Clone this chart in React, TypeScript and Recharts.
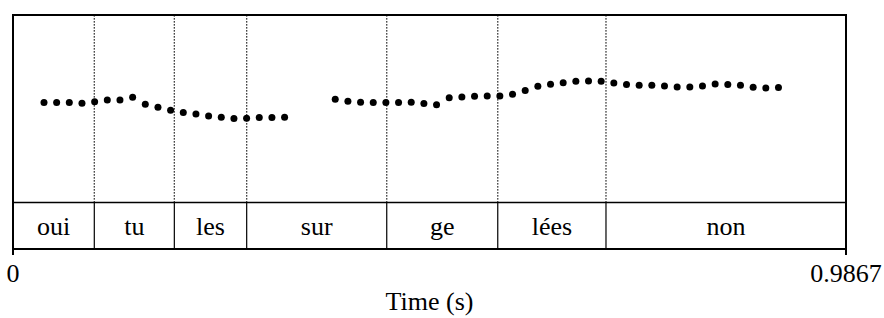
import React from 'react';
import {
  ComposedChart, Scatter, XAxis, YAxis, ReferenceLine, ReferenceArea, Label,
} from 'recharts';

const T_END = 0.9867;
const PITCH_MIN = 50;
const PITCH_MAX = 300;
const TIER_BOTTOM = -12; // the text tier sits under the pitch area

// pitch track (voiced parts), seconds / Hz
const TIMES_1 = [
  0.0367, 0.0517, 0.0667, 0.0817, 0.0967, 0.1117, 0.1267, 0.1417, 0.1567, 0.1717,
  0.1867, 0.2017, 0.2167, 0.2317, 0.2467, 0.2617, 0.2767, 0.2917, 0.3067, 0.3217,
];
const F0_1 = [
  183.2, 183.2, 183.2, 182.4, 184.5, 186.8, 186.8, 190.4, 181.1, 177.1,
  173.1, 169.9, 168.1, 165.5, 163.7, 161.9, 162.4, 163.2, 163.2, 163.7,
];
const TIMES_2 = [
  0.3817, 0.3967, 0.4117, 0.4267, 0.4417, 0.4567, 0.4717, 0.4867, 0.5017, 0.5167,
  0.5317, 0.5467, 0.5617, 0.5767, 0.5917, 0.6067, 0.6217, 0.6367, 0.6517, 0.6667,
  0.6817, 0.6967, 0.7117, 0.7267, 0.7417, 0.7567, 0.7717, 0.7867, 0.8017, 0.8167,
  0.8317, 0.8467, 0.8617, 0.8767, 0.8917, 0.9067,
];
const F0_2 = [
  187.7, 185.0, 183.7, 183.2, 183.2, 183.2, 183.7, 181.9, 180.5, 189.8,
  190.8, 191.7, 192.1, 192.1, 194.4, 199.2, 205.0, 207.7, 209.8, 211.7,
  212.1, 211.7, 209.4, 207.2, 206.4, 206.4, 205.4, 204.1, 204.1, 205.4,
  208.1, 207.2, 206.4, 203.7, 202.8, 203.2,
];

// word tier
const WORDS = ['oui', 'tu', 'les', 'sur', 'ge', 'lées', 'non'];
const BOUNDS = [0, 0.0963, 0.1911, 0.2768, 0.4427, 0.5742, 0.7024, T_END];

const X_TICKS = [0, T_END];

const FONT = 'Liberation Serif';
const FS = 26;

const pitchData = [
  ...TIMES_1.map((t, i) => ({ t, f0: F0_1[i] })),
  ...TIMES_2.map((t, i) => ({ t, f0: F0_2[i] })),
];

const Dot = (props: any) => <circle cx={props.cx} cy={props.cy} r={3.5} fill="#000" />;

export default function App() {
  const inner = BOUNDS.slice(1, -1);
  return (
    <div>
      <style>{`body{margin:0} .recharts-wrapper text, .recharts-wrapper tspan{font-family:"Liberation Serif" !important}`}</style>
      <ComposedChart
        width={884}
        height={318}
        data={pitchData}
        margin={{ top: 15, right: 38, left: 13, bottom: 0 }}
      >
        <XAxis
          dataKey="t"
          type="number"
          domain={[0, T_END]}
          ticks={X_TICKS}
          interval={0}
          height={69}
          tickSize={6}
          tickMargin={9}
          axisLine={{ stroke: '#000', strokeWidth: 2 }}
          tickLine={{ stroke: '#000', strokeWidth: 2 }}
          tick={{ fill: '#000', fontSize: FS, fontFamily: FONT }}
        >
          <Label value="Time (s)" position="insideBottom" offset={8} fill="#000" fontSize={FS} fontFamily={FONT} />
        </XAxis>
        <YAxis type="number" domain={[TIER_BOTTOM, PITCH_MAX]} hide />

        {/* dotted word boundaries across the pitch panel */}
        {inner.map((b) => (
          <ReferenceLine
            key={`d-${b}`}
            segment={[{ x: b, y: PITCH_MIN }, { x: b, y: PITCH_MAX }]}
            stroke="#000"
            strokeWidth={1.3}
            strokeDasharray="1.3 1.7"
          />
        ))}

        {/* tier cells */}
        {WORDS.map((w, i) => (
          <ReferenceArea
            key={w}
            x1={BOUNDS[i]}
            x2={BOUNDS[i + 1]}
            y1={TIER_BOTTOM}
            y2={PITCH_MIN}
            fill="none"
            stroke="none"
          >
            <Label value={w} position="center" fill="#000" fontSize={FS} fontFamily={FONT} />
          </ReferenceArea>
        ))}
        {inner.map((b) => (
          <ReferenceLine
            key={`s-${b}`}
            segment={[{ x: b, y: TIER_BOTTOM }, { x: b, y: PITCH_MIN }]}
            stroke="#000"
            strokeWidth={1.2}
          />
        ))}
        <ReferenceLine y={PITCH_MIN} stroke="#000" strokeWidth={1.5} />

        {/* outer frame */}
        <ReferenceArea
          x1={0}
          x2={T_END}
          y1={TIER_BOTTOM}
          y2={PITCH_MAX}
          fill="none"
          fillOpacity={0}
          stroke="#000"
          strokeWidth={2}
        />

        <Scatter dataKey="f0" shape={Dot} isAnimationActive={false} />
      </ComposedChart>
    </div>
  );
}
